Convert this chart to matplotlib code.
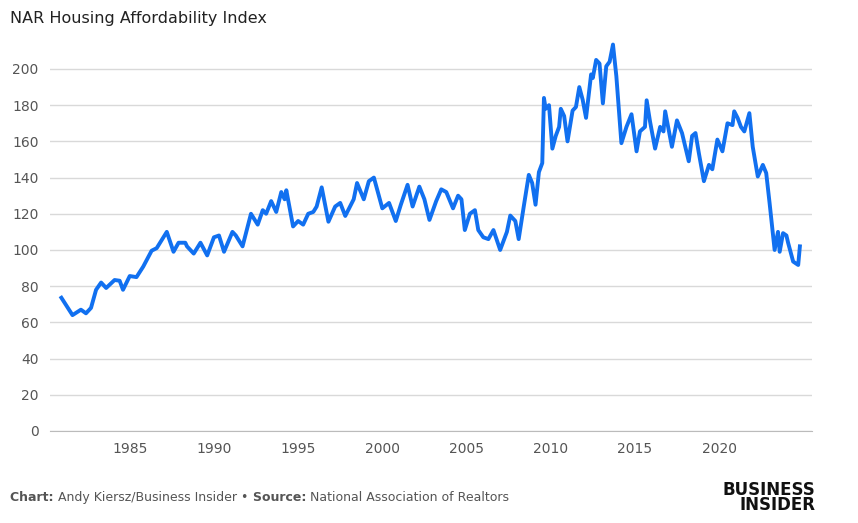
import matplotlib
matplotlib.use("Agg")
import matplotlib.pyplot as plt

years = [1980.94,1981.6,1982.1,1982.4,1982.7,1983.0,1983.3,1983.6,1984.1,1984.4,1984.6,1985.0,1985.4,1985.8,
 1986.3,1986.6,1986.9,1987.2,1987.6,1987.9,1988.3,1988.4,1988.8,1989.2,1989.6,1990.0,1990.3,1990.6,1991.1,1991.3,
 1991.7,1992.2,1992.6,1992.9,1993.1,1993.4,1993.7,1994.0,1994.2,1994.3,1994.7,1995.0,1995.3,1995.6,1995.9,1996.1,
 1996.4,1996.8,1997.2,1997.5,1997.8,1998.3,1998.5,1998.9,1999.2,1999.5,2000.0,2000.4,2000.8,2001.1,2001.5,2001.8,
 2002.2,2002.5,2002.8,2003.2,2003.5,2003.8,2004.2,2004.5,2004.7,2004.9,2005.2,2005.5,2005.7,2006.0,2006.3,2006.6,
 2007.0,2007.4,2007.6,2007.9,2008.1,2008.4,2008.7,2008.9,2009.1,2009.3,2009.5,2009.6,2009.7,2009.9,2010.1,2010.3,
 2010.5,2010.6,2010.8,2011.0,2011.3,2011.5,2011.7,2011.9,2012.1,2012.4,2012.5,2012.7,2012.9,2013.1,2013.3,2013.5,
 2013.7,2013.9,2014.2,2014.5,2014.8,2015.1,2015.3,2015.6,2015.7,2015.9,2016.2,2016.5,2016.7,2016.8,2017.2,2017.5,
 2017.8,2018.2,2018.4,2018.6,2018.8,2019.1,2019.4,2019.6,2019.9,2020.2,2020.5,2020.8,2020.9,2021.1,2021.3,2021.5,
 2021.8,2022.0,2022.3,2022.6,2022.8,2023.0,2023.3,2023.5,2023.6,2023.8,2024.0,2024.1,2024.4,2024.7,2024.8]
values = [73.6,64,67,65,68,78,82,79,83.4,83,78,85.6,85,90.8,
 99.6,101,105.5,110,99,104,104,102,98,104,97,107,108,99,110,108,
 102,120,114,122,120,127,121,132,128,133,113,116,114,120,121,124,
 134.6,115.6,124,126,118.8,128,137,128,138,140,123,126,116,125,136,124,
 135,128,116.6,127,133.5,132,123,130,128,111,120,122,111,107,106,111,
 100,110,119,116,106,124,141.5,137,125,143,148,184,178,180,156,163,
 168,178,174,160,177,179,190,183,173,197,195,205,203,181,201.5,204,
 213.5,196,159,168,175,154.5,165.5,168,182.7,171,156,168,165.5,176.6,157,171.6,
 164.6,149,163,164.6,153.5,138,147,144.6,161,154.5,170,169,176.6,173,168,165.5,
 175.6,157,140.6,147,142.5,126,100,110,99,109.3,108,104,93.6,91.7,102]
xticks = [1985,1990,1995,2000,2005,2010,2015,2020]
yticks = list(range(0,201,20))

fig = plt.figure(figsize=(8.58,5.23), dpi=100)
ax = fig.add_axes([0.058, 0.176, 0.888, 0.744])
ax.plot(years, values, color="#1170f0", lw=2.8, solid_joinstyle="round")
ax.set_xlim(1980.25, 2025.5)
ax.set_ylim(0, 215)
ax.set_xticks(xticks)
ax.set_yticks(yticks)
ax.grid(axis="y", color="#d9d9d9", lw=1)
ax.set_axisbelow(True)
for s in ["top","right","left"]:
    ax.spines[s].set_visible(False)
ax.spines["bottom"].set_color("#bbbbbb")
ax.tick_params(length=0, labelsize=10, colors="#555555", pad=8)
fig.text(0.012, 0.965, "NAR Housing Affordability Index", fontsize=11.5, color="#222222", va="center")

parts = [("Chart: ", "bold"), ("Andy Kiersz/Business Insider • ", "normal"),
         ("Source: ", "bold"), ("National Association of Realtors", "normal")]
fig.canvas.draw()
r = fig.canvas.get_renderer()
x = 0.012 * fig.bbox.width
for txt, w in parts:
    t = fig.text(x / fig.bbox.width, 0.048, txt, fontsize=9, color="#555555", va="center", fontweight=w)
    x += t.get_window_extent(r).width
fig.text(0.95, 0.048, "BUSINESS\nINSIDER", fontsize=12, color="#111111", va="center", ha="right",
         fontweight="black", linespacing=0.8)
fig.savefig("out.png", dpi=100)
